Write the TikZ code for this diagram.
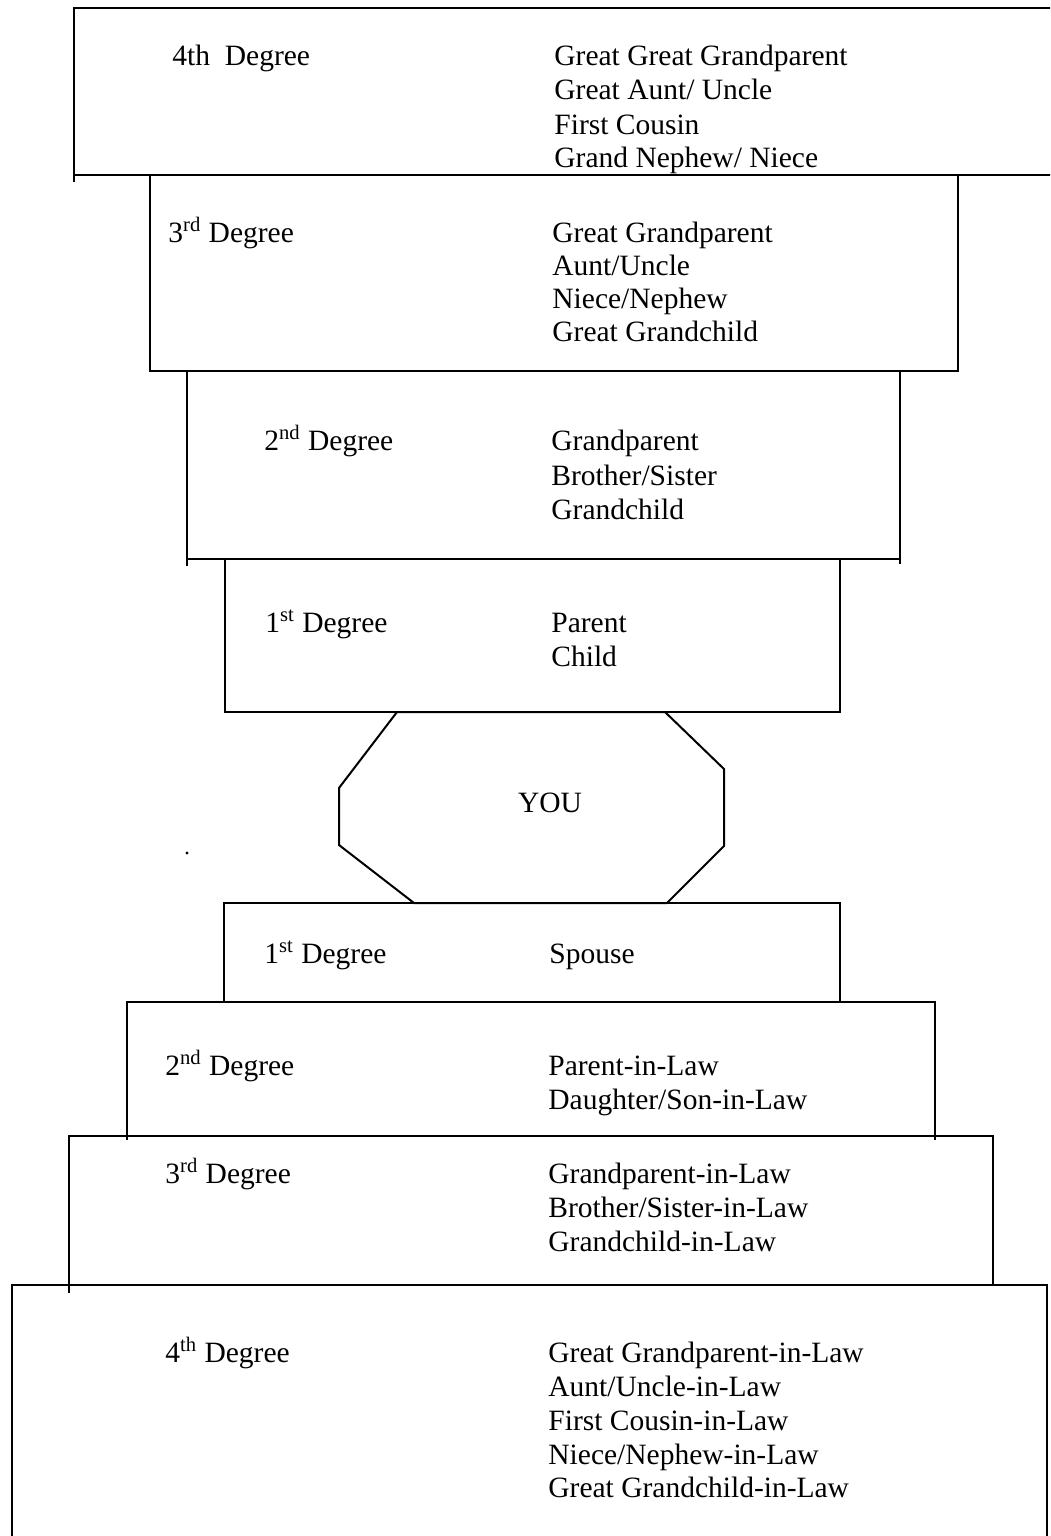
\documentclass[tikz,border=0pt]{standalone}
\usepackage{fontspec}
\setmainfont{Liberation Serif}
\begin{document}
\begin{tikzpicture}[x=0.5pt,y=-0.5pt,
  box/.style={draw=black,line width=1pt},
  tick/.style={draw=black,line width=1pt},
  txt/.style={anchor=base west,inner sep=0pt,font=\fontsize{14.75}{17}\selectfont},
  ctxt/.style={anchor=base,inner sep=0pt,font=\fontsize{14.75}{17}\selectfont}]
\clip (0,0) rectangle (1050,1536);
\useasboundingbox (0,0) rectangle (1050,1536);
\fill[white] (0,0) rectangle (1050,1536);

% upper boxes
\draw[box] (74,8) rectangle (1070,175);
\draw[box] (150,175) rectangle (958,371);
\draw[box] (187,371) rectangle (900,559);
\draw[box] (225,559) rectangle (840,712);
% small overhanging ticks
\draw[tick] (74,175) -- (74,182);
\draw[tick] (187,559) -- (187,566);
\draw[tick] (900,559) -- (900,564);

% octagon
\node[ctxt] (you) at (550,812) {YOU};
\draw[box,line join=miter] (397,712) -- (665,712) -- (724,769) -- (724,846) -- (667,903)
  -- (414,903) -- (339,845) -- (339,788) -- cycle;

% lower boxes
\draw[box] (224,903) rectangle (840,1002);
\draw[box] (127,1002) rectangle (935,1136);
\draw[box] (69,1136) rectangle (993,1285);
\draw[box] (12,1285) rectangle (1047,1560);
\draw[tick] (127,1136) -- (127,1140);
\draw[tick] (935,1136) -- (935,1140);
\draw[tick] (69,1285) -- (69,1293);

% stray dot
\fill (187,853) circle (1.6);

% box A (4th degree, top)
\node[txt] (a-l) at (172,66) {4th\ \ Degree};
\node[txt] (a-r1) at (554,66) {Great Great Grandparent};
\node[txt] (a-r2) at (554,100) {Great Aunt/ Uncle};
\node[txt] (a-r3) at (554,134) {First Cousin};
\node[txt] (a-r4) at (554,168) {Grand Nephew/ Niece};

% box B
\node[txt] (b-l) at (168,242) {3\textsuperscript{rd} Degree};
\node[txt] (b-r1) at (552,242) {Great Grandparent};
\node[txt] (b-r2) at (552,275) {Aunt/Uncle};
\node[txt] (b-r3) at (552,308) {Niece/Nephew};
\node[txt] (b-r4) at (552,341) {Great Grandchild};

% box C
\node[txt] (c-l) at (264,450) {2\textsuperscript{nd} Degree};
\node[txt] (c-r1) at (551,450) {Grandparent};
\node[txt] (c-r2) at (551,485) {Brother/Sister};
\node[txt] (c-r3) at (551,519) {Grandchild};

% box D
\node[txt] (d-l) at (265,632) {1\textsuperscript{st} Degree};
\node[txt] (d-r1) at (551,632) {Parent};
\node[txt] (d-r2) at (551,666) {Child};

% box E
\node[txt] (e-l) at (264,963) {1\textsuperscript{st} Degree};
\node[txt] (e-r1) at (549,963) {Spouse};

% box F
\node[txt] (f-l) at (165,1075) {2\textsuperscript{nd} Degree};
\node[txt] (f-r1) at (548,1075) {Parent-in-Law};
\node[txt] (f-r2) at (548,1109) {Daughter/Son-in-Law};

% box G
\node[txt] (g-l) at (165,1183) {3\textsuperscript{rd} Degree};
\node[txt] (g-r1) at (548,1183) {Grandparent-in-Law};
\node[txt] (g-r2) at (548,1217) {Brother/Sister-in-Law};
\node[txt] (g-r3) at (548,1251) {Grandchild-in-Law};

% box H
\node[txt] (h-l) at (165,1362) {4\textsuperscript{th} Degree};
\node[txt] (h-r1) at (548,1362) {Great Grandparent-in-Law};
\node[txt] (h-r2) at (548,1396) {Aunt/Uncle-in-Law};
\node[txt] (h-r3) at (548,1430) {First Cousin-in-Law};
\node[txt] (h-r4) at (548,1464) {Niece/Nephew-in-Law};
\node[txt] (h-r5) at (548,1497) {Great Grandchild-in-Law};
\end{tikzpicture}
\end{document}
